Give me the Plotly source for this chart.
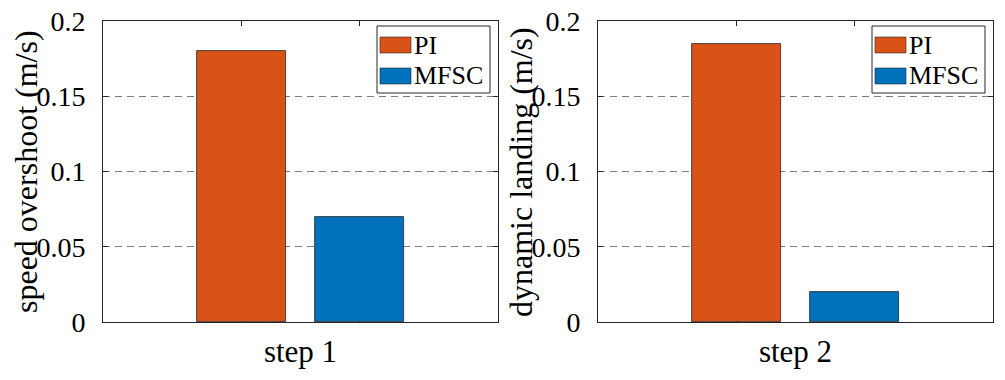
import plotly.graph_objects as go
from plotly.subplots import make_subplots

# datos
series = ["PI", "MFSC"]
colores = ["#D95319", "#0072BD"]
posiciones = [1, 2]
paso1 = [0.18, 0.07]
paso2 = [0.185, 0.02]
etiquetas_x = ["step 1", "step 2"]
etiquetas_y = ["speed overshoot (m/s)", "dynamic landing (m/s)"]
ticks_y = [0, 0.05, 0.1, 0.15, 0.2]

W, H = 1005, 380
fuente = "Liberation Serif"
negro = "#262626"


def px_x(x):
    return x / W


def px_y(y):
    return 1 - y / H


fig = make_subplots(rows=1, cols=2)

# barras
for col, valores in enumerate([paso1, paso2], start=1):
    for i in range(len(series)):
        fig.add_trace(go.Bar(x=[posiciones[i]], y=[valores[i]], width=0.76, name=series[i],
                             marker=dict(color=colores[i], line=dict(color=negro, width=0.8)),
                             showlegend=False), row=1, col=col)

# ejes (en pixeles de la imagen)
ejes_x = [(103, 498), (598, 993)]
for col in [1, 2]:
    fig.update_xaxes(domain=[px_x(ejes_x[col - 1][0]), px_x(ejes_x[col - 1][1])],
                     range=[-0.18, 3.18], tickvals=posiciones, showticklabels=False,
                     ticks="inside", ticklen=5, tickcolor=negro,
                     showline=True, linecolor=negro, linewidth=1, mirror="ticks",
                     showgrid=False, zeroline=False, layer="below traces", automargin=False,
                     title=dict(text=etiquetas_x[col - 1], standoff=18,
                                font=dict(family=fuente, size=31, color="black")),
                     row=1, col=col)
    fig.update_yaxes(domain=[px_y(322), px_y(21)], range=[0, 0.2], tickvals=ticks_y,
                     ticks="inside", ticklen=5, tickcolor=negro,
                     showline=True, linecolor=negro, linewidth=1, mirror="ticks",
                     showgrid=True, gridcolor="#7f7f7f", gridwidth=1, griddash="7px,5px",
                     zeroline=False, layer="below traces", automargin=False,
                     tickfont=dict(family=fuente, size=28, color="black"),
                     ticklabelstandoff=11, ticklabeloverflow="allow",
                     row=1, col=col)
    # titulo eje y
    fig.add_annotation(xref="paper", yref="paper", x=px_x(ejes_x[col - 1][0] - 77),
                       y=px_y(172), text=etiquetas_y[col - 1], textangle=-90,
                       showarrow=False, xanchor="center", yanchor="middle",
                       font=dict(family=fuente, size=32, color="black"))

# leyenda estilo matlab
for col in [1, 2]:
    derecha = ejes_x[col - 1][1]
    x0, x1 = derecha - 121, derecha - 8
    fig.add_shape(type="rect", xref="paper", yref="paper",
                  x0=px_x(x0), x1=px_x(x1), y0=px_y(93), y1=px_y(26),
                  line=dict(color=negro, width=1), fillcolor="white", layer="above")
    for i in range(len(series)):
        yc = 45 + 31 * i
        fig.add_shape(type="rect", xref="paper", yref="paper",
                      x0=px_x(x0 + 3), x1=px_x(x0 + 34), y0=px_y(yc + 8), y1=px_y(yc - 8),
                      line=dict(color=negro, width=0.6), fillcolor=colores[i], layer="above")
        fig.add_annotation(xref="paper", yref="paper", x=px_x(x0 + 35), y=px_y(yc),
                           text=series[i], showarrow=False, xanchor="left", yanchor="middle",
                           font=dict(family=fuente, size=26, color="black"))

fig.update_layout(width=W, height=H, margin=dict(l=0, r=0, t=0, b=0),
                  font=dict(family=fuente, color="black"),
                  plot_bgcolor="white", paper_bgcolor="white", bargap=0)

# quito el margen del body para que la figura empiece en 0,0
fig.write_html("out.html", config={"displayModeBar": False},
               post_script="document.body.style.margin='0';")
